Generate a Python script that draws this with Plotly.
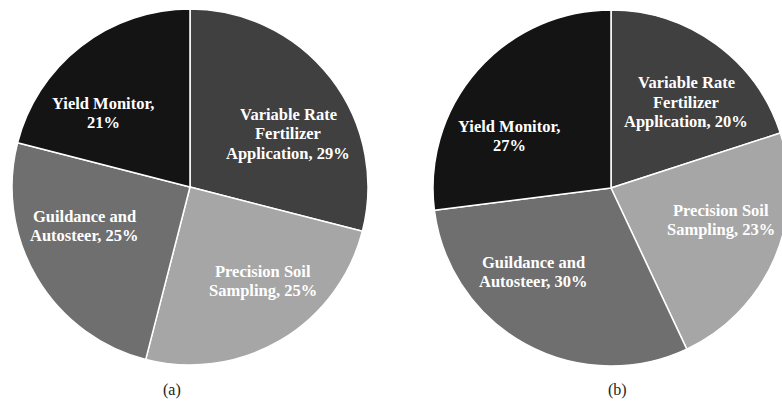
import plotly.graph_objects as go

W, H = 790, 402  # page clips at 782; reference pie (b) runs off the right edge

categories = ["Variable Rate Fertilizer Application", "Precision Soil Sampling",
              "Guildance and Autosteer", "Yield Monitor"]
label_lines = [["Variable Rate", "Fertilizer", "Application, {v}%"],
               ["Precision Soil", "Sampling, {v}%"],
               ["Guildance and", "Autosteer, {v}%"],
               ["Yield Monitor,", "{v}%"]]
values_a = [29, 25, 25, 21]
values_b = [20, 23, 30, 27]
colors = ["#404040", "#a6a6a6", "#6f6f6f", "#141414"]
panel_titles = ["(a)", "(b)"]


def px_dom(x0, x1, y0, y1):
    return dict(x=[max(0, x0 / W), min(1, x1 / W)], y=[1 - y1 / H, 1 - y0 / H])


fig = go.Figure()
fig.add_trace(go.Pie(labels=categories, values=values_a, sort=False,
                     direction="clockwise", rotation=0, textinfo="none",
                     marker=dict(colors=colors, line=dict(color="white", width=1.5)),
                     domain=px_dom(12, 368, 9, 365), hoverinfo="label+percent",
                     showlegend=False))
fig.add_trace(go.Pie(labels=categories, values=values_b, sort=False,
                     direction="clockwise", rotation=0, textinfo="none",
                     marker=dict(colors=colors, line=dict(color="white", width=1.5)),
                     domain=px_dom(433, 789, 10, 366), hoverinfo="label+percent",
                     showlegend=False))

# label anchor positions in pixels (centre of text block)
pos_a = [(288, 134), (263, 281), (84, 226), (103, 113)]
pos_b = [(686, 102), (721, 220), (533, 272), (509, 136)]
LINE = 19.5

annotations = []
for vals, pos in ((values_a, pos_a), (values_b, pos_b)):
    for lines, v, (px, py) in zip(label_lines, vals, pos):
        n = len(lines)
        for i, l in enumerate(lines):
            yy = py + (i - (n - 1) / 2) * LINE
            annotations.append(dict(x=px / W, y=1 - yy / H, xref="paper", yref="paper",
                                    text="<b>" + l.format(v=v) + "</b>", showarrow=False,
                                    xanchor="center", yanchor="middle", align="center",
                                    font=dict(family="Liberation Serif", size=16.5, color="white")))
for t, px in zip(panel_titles, (172, 617)):
    annotations.append(dict(x=px / W, y=1 - 390 / H, xref="paper", yref="paper",
                            text=t, showarrow=False, xanchor="center", yanchor="middle",
                            font=dict(family="Liberation Serif", size=16, color="#222222")))

fig.update_layout(width=W, height=H, margin=dict(l=0, r=0, t=0, b=0),
                  paper_bgcolor="white", plot_bgcolor="white",
                  annotations=annotations)

fig.write_html("out.html", config={"displayModeBar": False},
               post_script="document.body.style.margin='0';"
                           "document.body.style.overflow='hidden';"
                           "document.documentElement.style.overflow='hidden';")
